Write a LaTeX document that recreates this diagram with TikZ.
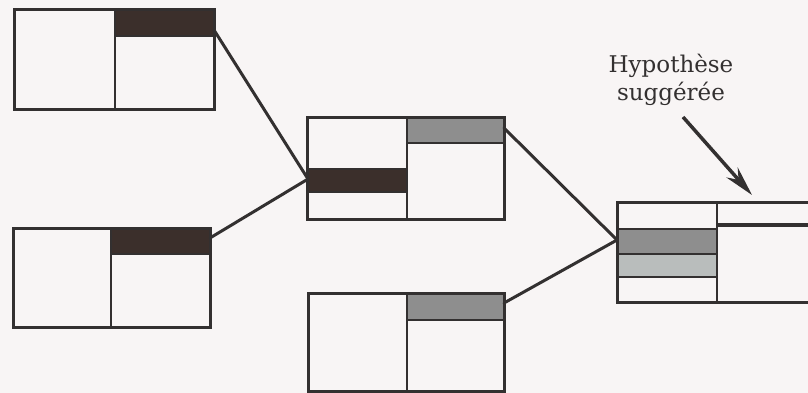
\documentclass[tikz,border=0pt]{standalone}
\usepackage{fontspec}
\setmainfont{DejaVu Serif}
\usetikzlibrary{arrows.meta}
\definecolor{bg}{HTML}{F8F5F5}
\definecolor{ink}{HTML}{333030}
\definecolor{darkband}{HTML}{3B2F2B}
\definecolor{midband}{HTML}{8E8E8E}
\definecolor{lightband}{HTML}{B9BDBC}
\tikzset{
  frame/.style={draw=ink, line width=3pt},
  sep/.style={draw=ink, line width=2.8pt},
  dband/.style={fill=darkband},
  mband/.style={fill=midband},
  lband/.style={fill=lightband},
  link/.style={draw=ink, line width=3pt, line cap=round},
  pointer/.style={draw=ink, line width=3.5pt, -{Stealth[length=30pt,width=15pt]}},
  lbl/.style={font=\fontsize{23}{28}\selectfont, text=ink, align=center, inner sep=0pt}
}
\begin{document}
\begin{tikzpicture}[x=1pt,y=-1pt]
\useasboundingbox (0,0) rectangle (808,393);
\fill[bg] (0,0) rectangle (808,393);
\clip (0,0) rectangle (808,393);

% box 1
\fill[dband] (115,10) rectangle (214,36);
\draw[frame] (14,10) rectangle (214,110);
\draw[sep] (115,10) -- (115,110);
\draw[sep] (115,36) -- (214,36);
\coordinate (b1out) at (214,30);

% box 2
\fill[dband] (111,228) rectangle (210,254);
\draw[frame] (13,228) rectangle (210,327);
\draw[sep] (111,228) -- (111,327);
\draw[sep] (111,254) -- (210,254);
\coordinate (b2out) at (210,238);

% box 3
\fill[mband] (407,118) rectangle (504,143);
\fill[dband] (307,169) rectangle (407,192);
\draw[frame] (307,118) rectangle (504,219);
\draw[sep] (407,118) -- (407,219);
\draw[sep] (407,143) -- (504,143);
\draw[sep] (307,169) -- (407,169);
\draw[sep] (307,192) -- (407,192);
\coordinate (b3in) at (308,179);
\coordinate (b3out) at (504,128);

% box 4
\fill[mband] (407,293) rectangle (504,320);
\draw[frame] (308,293) rectangle (504,391);
\draw[sep] (407,293) -- (407,391);
\draw[sep] (407,320) -- (504,320);
\coordinate (b4out) at (504,303);

% box 5
\fill[mband] (617,229) rectangle (717,254);
\fill[lband] (617,254) rectangle (717,277);
\draw[frame] (830,202) -- (617,202) -- (617,302) -- (830,302);
\draw[sep] (717,202) -- (717,302);
\draw[sep] (617,229) -- (717,229);
\draw[sep] (617,254) -- (717,254);
\draw[sep] (617,277) -- (717,277);
\draw[sep, line width=3.4pt] (717,225) -- (830,225);
\coordinate (b5in) at (617,240);

% connectors
\draw[link] (b1out) -- (b3in);
\draw[link] (b2out) -- (b3in);
\draw[link] (b3out) -- (b5in);
\draw[link] (b4out) -- (b5in);

% label and arrow
\node[lbl] (hyp) at (671,80) {Hypothèse\\suggérée};
\coordinate (arrtail) at (683,117);
\coordinate (arrtip) at (752,195);
\draw[pointer] (arrtail) -- (arrtip);
\end{tikzpicture}
\end{document}
